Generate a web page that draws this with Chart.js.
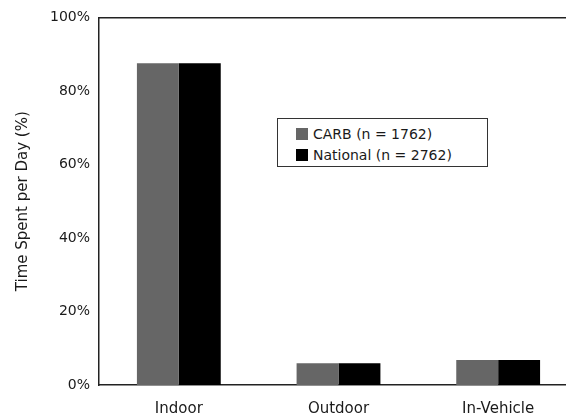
<!DOCTYPE html>
<html>
<head>
<meta charset="utf-8">
<script src="https://cdn.jsdelivr.net/npm/chart.js@4"></script>
<style>
  body { margin: 0; overflow: hidden; background: #fff; }
  #wrap { position: relative; width: 578px; height: 420px; }
  #legend {
    position: absolute; left: 277px; top: 118px; width: 211px; height: 49px;
    box-sizing: border-box; border: 1.5px solid #333; background: #fff;
    font-family: 'DejaVu Sans', sans-serif; font-size: 14px; color: #1a1a1a;
    padding-top: 5px;
  }
  #legend .row { position: relative; height: 21px; line-height: 21px; padding-left: 35px; white-space: nowrap; }
  #legend .sw { position: absolute; left: 18px; top: 4px; width: 12px; height: 12px; }
</style>
</head>
<body>
<div id="wrap">
  <canvas id="chart" width="578" height="420"></canvas>
  <div id="legend"></div>
</div>
<script>
const categories = ['Indoor', 'Outdoor', 'In-Vehicle'];
const seriesNames = ['CARB (n = 1762)', 'National (n = 2762)'];
const carbValues = [87.5, 5.9, 6.8];
const nationalValues = [87.5, 5.9, 6.8];
const yTicks = [0, 20, 40, 60, 80, 100];

const colors = ['#666666', '#000000'];

document.addEventListener('DOMContentLoaded', () => {
    const legend = document.getElementById('legend');
    seriesNames.forEach((name, i) => {
        const row = document.createElement('div');
        row.className = 'row';
        const sw = document.createElement('span');
        sw.className = 'sw';
        sw.style.background = colors[i];
        row.appendChild(sw);
        row.appendChild(document.createTextNode(name));
        legend.appendChild(row);
    });

    Chart.defaults.font.family = "'DejaVu Sans', sans-serif";
    Chart.defaults.color = '#1a1a1a';

    const ctx = document.getElementById('chart').getContext('2d');
    new Chart(ctx, {
        type: 'bar',
        data: {
            labels: categories,
            datasets: [
                { label: seriesNames[0], data: carbValues, backgroundColor: colors[0] },
                { label: seriesNames[1], data: nationalValues, backgroundColor: colors[1] }
            ]
        },
        options: {
            responsive: false,
            animation: false,
            devicePixelRatio: 1,
            layout: { padding: 0 },
            datasets: {
                bar: { barPercentage: 1, categoryPercentage: 0.525, borderWidth: 0 }
            },
            plugins: {
                legend: { display: false },
                tooltip: { enabled: false }
            },
            scales: {
                x: {
                    position: 'bottom',
                    grid: { display: false, drawTicks: false },
                    border: { display: true, color: '#222', width: 1.5 },
                    ticks: { font: { size: 15 }, padding: 15, maxRotation: 0 },
                    afterFit: (scale) => { scale.height = 35; }
                },
                x2: {
                    type: 'category',
                    position: 'top',
                    grid: { display: false, drawTicks: false },
                    border: { display: true, color: '#222', width: 1.5 },
                    ticks: { display: false },
                    afterFit: (scale) => { scale.height = 16; }
                },
                y: {
                    min: 0,
                    max: 100,
                    grid: { display: false, drawTicks: false },
                    border: { display: true, color: '#222', width: 1.5 },
                    afterBuildTicks: (scale) => { scale.ticks = yTicks.map(v => ({ value: v })); },
                    ticks: {
                        font: { size: 14 },
                        padding: 9,
                        callback: (v) => v + '%'
                    },
                    title: {
                        display: true,
                        text: 'Time Spent per Day (%)',
                        font: { size: 15 },
                        padding: { top: 14, bottom: 0 }
                    },
                    afterFit: (scale) => { scale.width = 99; }
                }
            }
        }
    });
});
</script>
</body>
</html>
